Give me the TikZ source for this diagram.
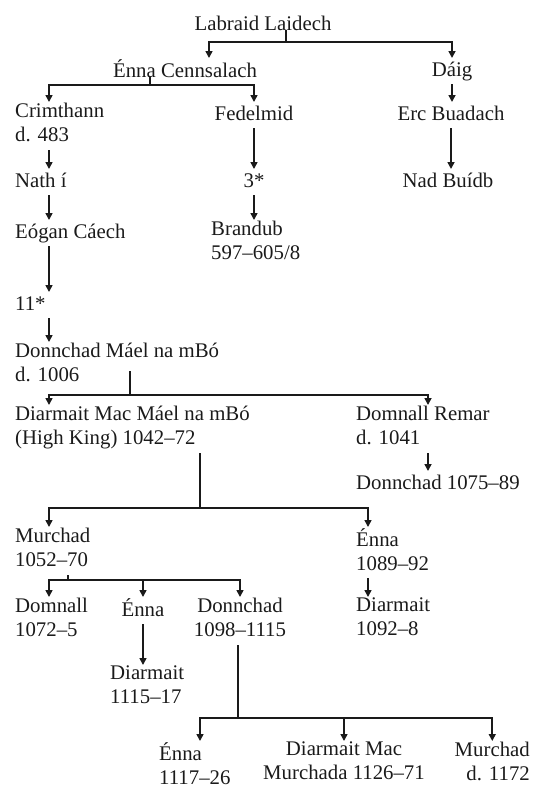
\documentclass[tikz,border=0pt]{standalone}
\usepackage{fontspec}
\setmainfont{Liberation Serif}
\usepackage{xcolor}
\usepackage{tikz}
\usetikzlibrary{arrows.meta, calc}
\definecolor{ink}{HTML}{1A1A1A}

\begin{document}
\begin{tikzpicture}[x=1pt, y=-1pt,
    lbl/.style={inner xsep=0pt, inner ysep=1pt, align=left, text=ink,
        font=\fontsize{20.8}{24}\selectfont,
        execute at begin node=\strut, execute at end node=\strut},
    lastrow/.style={lbl, execute at end node={}},
    tree/.style={line width=1.6pt, draw=ink},
    arr/.style={tree, -{Triangle[width=7pt, length=7pt]}}]
    \useasboundingbox (0,0) rectangle (533,787);

    % names
    \node[lbl, anchor=north] (labraid) at (263,12) {Labraid Laidech};
    \node[lbl, anchor=north] (enna) at (185,58) {Énna Cennsalach};
    \node[lbl, anchor=north] (daig) at (452,58) {Dáig};
    \node[lbl, anchor=north west] (crim) at (15,102) {Crimthann\\d. 483};
    \node[lbl, anchor=north] (fedel) at (254,102) {Fedelmid};
    \node[lbl, anchor=north] (erc) at (451,102) {Erc Buadach};
    \node[lbl, anchor=north west] (nath) at (15,169) {Nath í};
    \node[lbl, anchor=north] (three) at (254,169) {3*};
    \node[lbl, anchor=north] (nad) at (448,169) {Nad Buídb};
    \node[lbl, anchor=north west] (eogan) at (15,220) {Eógan Cáech};
    \node[lbl, anchor=north west] (brandub) at (211,220) {Brandub\\597–605/8};
    \node[lbl, anchor=north west] (eleven) at (15,292) {11*};
    \node[lbl, anchor=north west] (dmael) at (15,342) {Donnchad Máel na mBó\\d. 1006};
    \node[lbl, anchor=north west] (dmac) at (15,405) {Diarmait Mac Máel na mBó\\(High King) 1042–72};
    \node[lbl, anchor=north west] (dremar) at (356,405) {Domnall Remar\\d. 1041};
    \node[lbl, anchor=north west] (donn75) at (356,471) {Donnchad 1075–89};
    \node[lbl, anchor=north west] (murchad) at (15,527) {Murchad\\1052–70};
    \node[lbl, anchor=north west] (ennaR) at (356,527) {Énna\\1089–92};
    \node[lbl, anchor=north west] (domnall) at (15,597) {Domnall\\1072–5};
    \node[lbl, anchor=north] (ennaM) at (143,597) {Énna};
    \node[lbl, anchor=north, align=center] (donn98) at (240,597) {Donnchad\\1098–1115};
    \node[lbl, anchor=north west] (diarR) at (356,597) {Diarmait\\1092–8};
    \node[lbl, anchor=north west] (diar15) at (110,665) {Diarmait\\1115–17};
    \node[lastrow, anchor=north west] (ennaB) at (159,741) {Énna\\1117–26};
    \node[lastrow, anchor=north, align=center] (diarMac) at (344,741) {Diarmait Mac\\Murchada 1126–71};
    \node[lastrow, anchor=north east, align=right] (murchB) at (530,741) {Murchad\\d. 1172};

    % branch points
    \coordinate (j1) at (286,42);
    \coordinate (j2) at (150,85);
    \coordinate (j3) at (130,395);
    \coordinate (j4) at (200,508);
    \coordinate (j5) at (68,580);
    \coordinate (j6) at (238,718);

    \draw[tree] (labraid.base -| j1) -- (j1);
    \draw[arr] (j1) -| ([xshift=24pt]enna.north);
    \draw[arr] (j1) -| (daig.north);

    \draw[tree] (enna.base -| j2) -- (j2);
    \draw[arr] (j2) -| ([xshift=34pt]crim.north west);
    \draw[arr] (j2) -| (fedel.north);
    \draw[arr] (daig.south) -- (daig.south |- erc.north);

    \draw[arr] ([xshift=34pt]crim.south west) -- ([xshift=34pt]nath.north west);
    \draw[arr] ([xshift=34pt]nath.south west) -- ([xshift=34pt]eogan.north west);
    \draw[arr] ([xshift=34pt]eogan.south west) -- ([xshift=34pt]eleven.north west);
    \draw[arr] ([xshift=34pt]eleven.south west) -- ([xshift=34pt]dmael.north west);
    \draw[arr] (fedel.south) -- (three.north);
    \draw[arr] (three.south) -- (three.south |- brandub.north);
    \draw[arr] (erc.south) -- (erc.south |- nad.north);

    \draw[tree] (dmael.center -| j3) ++(0,5) -- (j3);
    \draw[arr] (j3) -| ([xshift=34pt]dmac.north west);
    \draw[arr] (j3) -| ([xshift=72pt]dremar.north west);
    \draw[arr] ([xshift=72pt]dremar.south west) -- ([xshift=72pt]donn75.north west);

    \draw[tree] (dmac.south -| j4) -- (j4);
    \draw[arr] (j4) -| ([xshift=34pt]murchad.north west);
    \draw[arr] (j4) -| ([xshift=12pt]ennaR.north west);
    \draw[arr] ([xshift=12pt]ennaR.south west) -- ([xshift=12pt]diarR.north west);

    \draw[tree] (murchad.south -| j5) -- (j5);
    \draw[arr] (j5) -| ([xshift=34pt]domnall.north west);
    \draw[arr] (j5) -| (ennaM.north);
    \draw[arr] (j5) -| (donn98.north);
    \draw[arr] (ennaM.south) -- (ennaM.south |- diar15.north);

    \draw[tree] (donn98.south -| j6) -- (j6);
    \draw[arr] (j6) -| ([xshift=41pt]ennaB.north west);
    \draw[arr] (j6) -| (diarMac.north);
    \draw[arr] (j6) -| (murchB.north);
\end{tikzpicture}
\end{document}
